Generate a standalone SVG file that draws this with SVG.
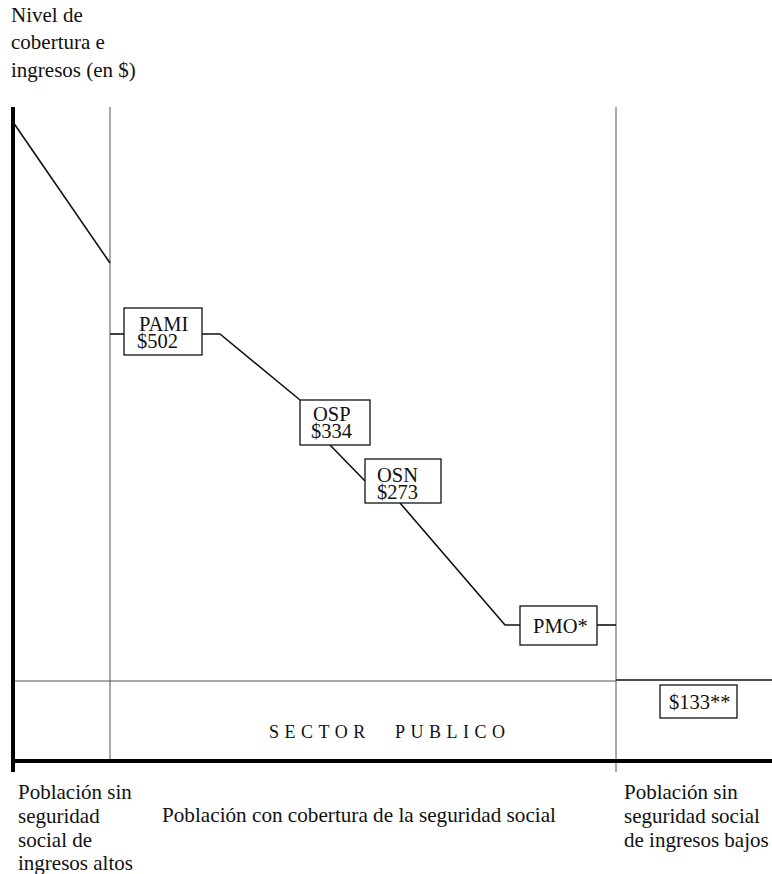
<svg xmlns="http://www.w3.org/2000/svg" width="772" height="874" viewBox="0 0 772 874">
<style>
text{font-family:"Liberation Serif","Times New Roman",serif;font-size:21px;fill:#111}
.bt{font-size:20.5px}
.sp{font-size:18px;letter-spacing:5.5px}
.box{fill:#fff;stroke:#111;stroke-width:1.3}
.ln{stroke:#111;stroke-width:1.6;fill:none}
.thin{stroke:#555;stroke-width:1;fill:none}
.axis{stroke:#000;stroke-width:4;fill:none}
</style>
<rect width="772" height="874" fill="#fff"/>
<g id="axis-label">
<text x="11" y="22">Nivel de</text>
<text x="11" y="49">cobertura e</text>
<text x="11" y="77">ingresos (en $)</text>
</g>
<g id="frame">
<line class="thin" x1="110" y1="107" x2="110" y2="762"/>
<line class="thin" x1="616" y1="107" x2="616" y2="772"/>
<line class="thin" x1="13" y1="681" x2="616" y2="681"/>
<line class="ln" x1="616" y1="680" x2="772" y2="680"/>
<line class="axis" x1="13" y1="107" x2="13" y2="772"/>
<line class="axis" x1="13" y1="761" x2="772" y2="761"/>
</g>
<g id="connectors">
<polyline class="ln" points="13,122 110,263"/>
<line class="ln" x1="110" y1="334" x2="124" y2="334"/>
<polyline class="ln" points="202,334 220,334 300,400"/>
<line class="ln" x1="330" y1="445" x2="365" y2="481"/>
<polyline class="ln" points="400,503 505,625 520,625"/>
<line class="ln" x1="597" y1="625" x2="616" y2="625"/>
</g>
<g id="pami">
<rect class="box" x="124" y="308" width="78" height="47"/>
<text class="bt" x="139" y="331">PAMI</text>
<text class="bt" x="137" y="348">$502</text>
</g>
<g id="osp">
<rect class="box" x="300" y="400" width="70" height="45"/>
<text class="bt" x="313" y="421">OSP</text>
<text class="bt" x="311" y="438">$334</text>
</g>
<g id="osn">
<rect class="box" x="365" y="459" width="76" height="44"/>
<text class="bt" x="377" y="482">OSN</text>
<text class="bt" x="377" y="499">$273</text>
</g>
<g id="pmo">
<rect class="box" x="520" y="606" width="77" height="39"/>
<text class="bt" x="533" y="633">PMO*</text>
</g>
<g id="p133">
<rect class="box" x="660" y="685" width="77" height="33"/>
<text class="bt" x="669" y="709">$133**</text>
</g>
<g id="sector">
<text class="sp" x="269" y="738">SECTOR</text>
<text class="sp" x="395" y="738">PUBLICO</text>
</g>
<g id="bottom-labels">
<text x="18" y="799">Población sin</text>
<text x="18" y="823">seguridad</text>
<text x="18" y="847">social de</text>
<text x="18" y="870">ingresos altos</text>
<text x="162" y="822" textLength="394" lengthAdjust="spacingAndGlyphs">Población con cobertura de la seguridad social</text>
<text x="624" y="799">Población sin</text>
<text x="624" y="823">seguridad social</text>
<text x="624" y="847">de ingresos bajos</text>
</g>
</svg>
